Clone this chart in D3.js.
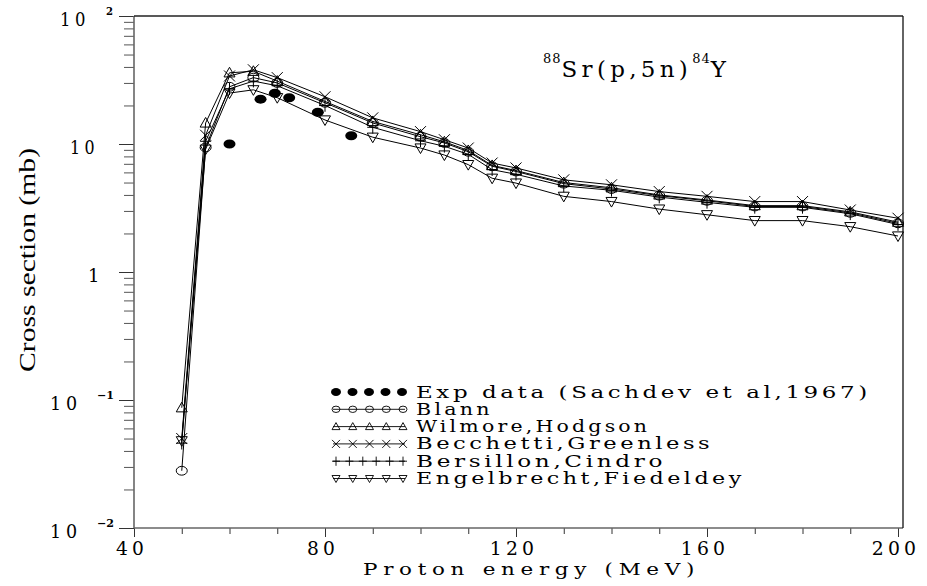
<!DOCTYPE html>
<html>
<head>
<meta charset="utf-8">
<script src="https://cdn.jsdelivr.net/npm/d3@7"></script>
<style>
  body { margin: 0; background: #fff; -webkit-font-smoothing: antialiased; }
  svg text { font-family: "DejaVu Serif", serif; fill: #000; }
</style>
</head>
<body>
<div id="chart"></div>
<script>
// proton energies (MeV) of the model calculations
const energies = [50, 55, 60, 65, 70, 80, 90, 100, 105, 110, 115, 120, 130, 140, 150, 160, 170, 180, 190, 200];

const blann       = [0.028, 9.4, 28, 33, 30, 21, 14.6, 11.4, 10.2, 8.7, 6.7, 6.1, 4.9, 4.45, 3.95, 3.6, 3.25, 3.25, 2.9, 2.4];
const wilmore     = [0.087, 14.6, 36, 37, 31, 21.5, 15, 11.8, 10.4, 8.9, 6.8, 6.2, 5.0, 4.55, 4.0, 3.65, 3.3, 3.3, 2.95, 2.45];
const becchetti   = [0.05, 11.7, 34, 38, 33, 23.4, 16, 12.5, 10.8, 9.3, 7.1, 6.5, 5.25, 4.8, 4.25, 3.9, 3.55, 3.55, 3.05, 2.63];
const bersillon   = [0.046, 10.5, 27, 31, 28.5, 20, 13.5, 10.6, 9.6, 8.3, 6.3, 5.8, 4.7, 4.35, 3.85, 3.5, 3.2, 3.2, 2.85, 2.35];
const engelbrecht = [0.048, 9.1, 25, 26.5, 23, 15.4, 11.3, 9.3, 8.2, 6.9, 5.4, 4.95, 3.9, 3.55, 3.1, 2.8, 2.52, 2.52, 2.26, 1.91];

// experimental points
const expEnergy = [60, 66.5, 69.5, 72.5, 78.5, 85.5];
const expValue  = [10, 22.4, 24.9, 23, 17.7, 11.6];

const seriesNames = ["Blann", "Wilmore,Hodgson", "Becchetti,Greenless", "Bersillon,Cindro", "Engelbrecht,Fiedeldey"];
const seriesShapes = ["circle", "triangle", "times", "plus", "triangleDown"];
const expName = "Exp data (Sachdev et al,1967)";

const xTicks = [40, 80, 120, 160, 200];
const yMajor = [0.01, 0.1, 1, 10, 100];
const yLabelBase = ["10", "10", "1", "10", "10"];
const yLabelExp  = ["-2", "-1", "", "", "2"];

const margin = {left: 134, right: 898, top: 16, bottom: 528};

const svg = d3.select("#chart").append("svg")
    .attr("width", 927).attr("height", 586);

const x = d3.scaleLinear().domain([40, 200]).range([margin.left, margin.right]);
const y = d3.scaleLog().domain([0.01, 100]).range([margin.bottom, margin.top]);

// marker path for each shape, s = half size
function shapePath(type, s){
    if(type === "triangle") return `M0,${-s} L${s},${s*0.75} L${-s},${s*0.75} Z`;
    if(type === "triangleDown") return `M${-s},${-s*0.75} L${s},${-s*0.75} L0,${s} Z`;
    if(type === "times") return `M${-s},${-s} L${s},${s} M${-s},${s} L${s},${-s}`;
    if(type === "plus") return `M${-s},0 H${s} M0,${-s*1.15} V${s*1.15}`;
    // ellipse
    let rx = s, ry = s*0.8;
    return `M${-rx},0 A${rx},${ry} 0 1,0 ${rx},0 A${rx},${ry} 0 1,0 ${-rx},0 Z`;
}

// stretched serif text, the original uses a wide typeface with open spacing
function wideText(sel, w, ls = 3){
    return sel.attr("letter-spacing", ls).attr("textLength", w).attr("lengthAdjust", "spacingAndGlyphs");
}

// axes
const yMinor = [];
yMajor.slice(0, -1).forEach(d => { for(let k = 2; k < 10; k++) yMinor.push(d*k); });

const axisY = svg.append("g").attr("transform", `translate(${margin.left},0)`);
axisY.call(d3.axisLeft(y).tickValues(yMinor).tickSize(10).tickFormat(""));
axisY.call(g => g.selectAll(".tick line").attr("stroke", "#555"));
const axisYMajor = svg.append("g").attr("transform", `translate(${margin.left},0)`)
    .call(d3.axisLeft(y).tickValues(yMajor).tickSize(15).tickFormat(""));
axisYMajor.selectAll(".tick line").attr("stroke", "#333");
svg.selectAll(".domain").remove();

const xMinor = d3.range(50, 200, 10).filter(d => !xTicks.includes(d));
const axisX = svg.append("g").attr("transform", `translate(0,${margin.bottom})`)
    .call(d3.axisBottom(x).tickValues(xMinor).tickSize(6).tickFormat(""));
axisX.selectAll(".tick line").attr("stroke", "#333");
const axisXMajor = svg.append("g").attr("transform", `translate(0,${margin.bottom})`)
    .call(d3.axisBottom(x).tickValues(xTicks).tickSize(9).tickFormat(""));
axisXMajor.selectAll(".tick line").attr("stroke", "#333");
svg.selectAll(".domain").remove();

// frame
svg.append("line").attr("x1", margin.left).attr("x2", margin.left).attr("y1", margin.top).attr("y2", margin.bottom)
    .attr("stroke", "#666").attr("stroke-width", 1.6);
svg.append("line").attr("x1", margin.left).attr("x2", 903).attr("y1", margin.bottom).attr("y2", margin.bottom)
    .attr("stroke", "#666").attr("stroke-width", 1.6);
svg.append("line").attr("x1", margin.left).attr("x2", 903).attr("y1", margin.top).attr("y2", margin.top)
    .attr("stroke", "#222").attr("stroke-width", 1.3);
svg.append("line").attr("x1", 903).attr("x2", 903).attr("y1", margin.top).attr("y2", margin.bottom)
    .attr("stroke", "#111").attr("stroke-width", 1.3);

// x tick labels
svg.selectAll(".xlab").data(xTicks).enter().append("text")
    .attr("class", "xlab")
    .attr("x", d => x(d) - 2)
    .attr("y", 555)
    .attr("text-anchor", "middle")
    .attr("font-size", 18)
    .each(function(d){ wideText(d3.select(this), String(d).length * 16.5 - 1, 4); })
    .text(d => d);

// y tick labels
yMajor.forEach((d, i) => {
    let t = svg.append("text").attr("font-size", 18).attr("y", y(d) + 9.5);
    if(yLabelExp[i] === ""){
        let w = yLabelBase[i].length === 1 ? 11 : 29;
        t.attr("x", 99 - w).text(yLabelBase[i]);
        if(w > 11) wideText(t, w, 5);
    } else {
        let neg = yLabelExp[i].startsWith("-");
        t.attr("x", neg ? 50 : 60).text(yLabelBase[i]);
        wideText(t, neg ? 32 : 30, 5);
        svg.append("text")
            .attr("x", neg ? 97 : 106)
            .attr("y", y(d) - 1)
            .attr("font-size", 11)
            .attr("font-weight", "bold")
            .attr("textLength", neg ? 17 : 7)
            .attr("lengthAdjust", "spacingAndGlyphs")
            .text(neg ? "\u2212" + yLabelExp[i].slice(1) : yLabelExp[i]);
    }
});

// axis titles
wideText(svg.append("text")
    .attr("x", 363).attr("y", 575)
    .attr("font-size", 17), 337, 4.5)
    .text("Proton energy (MeV)");

svg.append("text")
    .attr("transform", "translate(35,260) rotate(-90)")
    .attr("text-anchor", "middle")
    .style("font-family", "'Liberation Serif', serif")
    .attr("font-size", 24)
    .attr("textLength", 224).attr("lengthAdjust", "spacingAndGlyphs")
    .text("Cross section (mb)");

// reaction label
const title = svg.append("text").attr("x", 543).attr("y", 77).attr("font-size", 23);
title.append("tspan").attr("font-size", 13).attr("dy", -14).attr("letter-spacing", 1).text("88");
title.append("tspan").attr("dy", 14).attr("letter-spacing", 4.3).text("Sr(p,5n)");
title.append("tspan").attr("font-size", 13).attr("dy", -14).attr("letter-spacing", 1).text("84");
title.append("tspan").attr("dy", 14).text("Y");

// model curves
const allSeries = [blann, wilmore, becchetti, bersillon, engelbrecht];
const line = d3.line().x(d => x(d[0])).y(d => y(d[1]));
const plot = svg.append("g").attr("class", "curves");

allSeries.forEach((vals, i) => {
    let pts = energies.map((e, j) => [e, vals[j]]);
    plot.append("path").datum(pts)
        .attr("d", line)
        .attr("fill", "none")
        .attr("stroke", "#000")
        .attr("stroke-width", 1);
    plot.selectAll(".m" + i).data(pts).enter().append("path")
        .attr("class", "m" + i)
        .attr("transform", d => `translate(${x(d[0])},${y(d[1])})`)
        .attr("d", shapePath(seriesShapes[i], 5.5))
        .attr("fill", "none")
        .attr("stroke", "#000")
        .attr("stroke-width", 1);
});

// experimental points
plot.selectAll(".exp").data(expEnergy.map((e, j) => [e, expValue[j]])).enter().append("ellipse")
    .attr("class", "exp")
    .attr("cx", d => x(d[0]))
    .attr("cy", d => y(d[1]))
    .attr("rx", 6).attr("ry", 4.5)
    .attr("fill", "#000");

// legend
const legend = svg.append("g").attr("class", "legend");
const rowY = d3.range(6).map(i => 392 + i*17.3);
const legendX0 = 336, legendX1 = 403;

legend.selectAll(".expsym").data(d3.range(5)).enter().append("ellipse")
    .attr("cx", k => legendX0 + k*16.5)
    .attr("cy", rowY[0])
    .attr("rx", 5).attr("ry", 4)
    .attr("fill", "#000");

seriesNames.forEach((name, i) => {
    let yy = rowY[i + 1];
    let n = seriesShapes[i] === "plus" ? 6 : 5;
    legend.append("line").attr("x1", legendX0 - 3).attr("x2", legendX1 + 2)
        .attr("y1", yy).attr("y2", yy).attr("stroke", "#000").attr("stroke-width", 0.9);
    legend.selectAll(".ls" + i).data(d3.range(n)).enter().append("path")
        .attr("transform", k => `translate(${legendX0 + k*(legendX1 - legendX0)/(n - 1)},${yy})`)
        .attr("d", shapePath(seriesShapes[i], 4))
        .attr("fill", "none")
        .attr("stroke", "#000")
        .attr("stroke-width", 0.9);
});

[expName].concat(seriesNames).forEach((name, i) => {
    wideText(legend.append("text")
        .attr("x", 416).attr("y", rowY[i] + 5.5)
        .attr("font-size", 16), name.length * 15.75 - 2, 2.5)
        .text(name);
});
</script>
</body>
</html>
